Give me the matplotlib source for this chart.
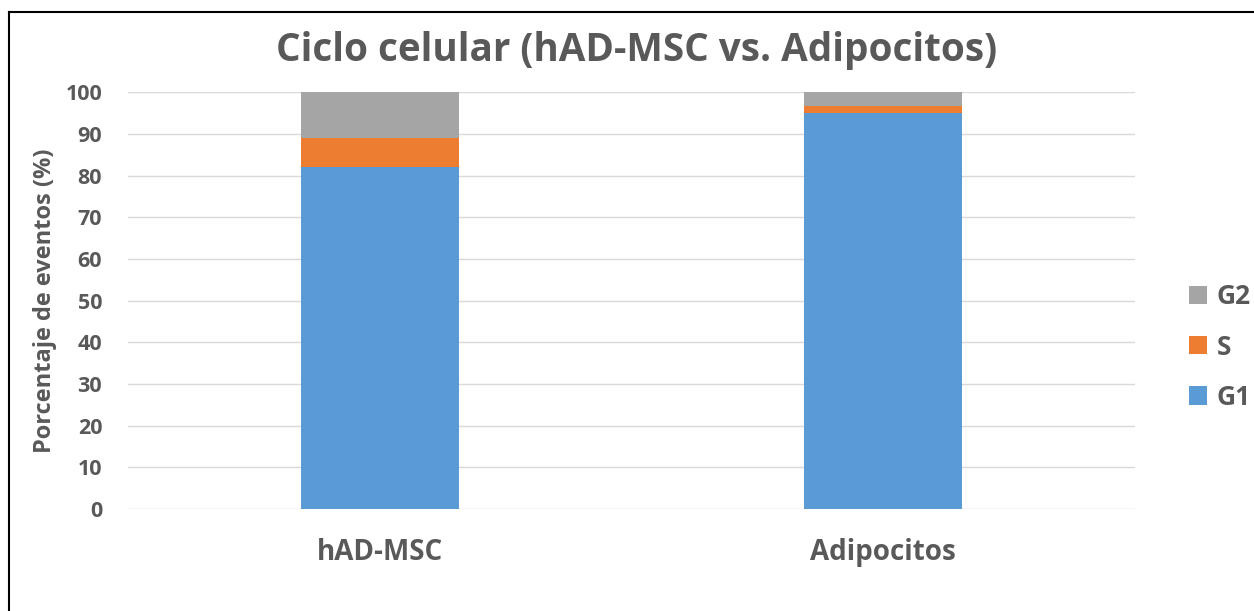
import matplotlib.pyplot as plt
import numpy as np
from matplotlib.lines import Line2D

# data
categories = ['hAD-MSC', 'Adipocitos']
g1 = [82.1, 95.0]
s_phase = [6.9, 1.7]
g2 = [11.0, 3.3]
yticks = list(range(0, 101, 10))

text_color = '#595959'
plt.rcParams['font.family'] = ['Open Sans', 'DejaVu Sans']

fig = plt.figure(figsize=(12.54, 6.11), dpi=100)
ax = fig.add_axes([0.102, 0.167, 0.803, 0.682])

x = np.arange(len(categories))
width = 0.314
b1 = ax.bar(x, g1, width, color='#5B9BD5', label='G1', zorder=3)
b2 = ax.bar(x, s_phase, width, bottom=g1, color='#ED7D31', label='S', zorder=3)
bottom2 = [a + b for a, b in zip(g1, s_phase)]
b3 = ax.bar(x, g2, width, bottom=bottom2, color='#A5A5A5', label='G2', zorder=3)

ax.set_xlim(-0.5, 1.5)
ax.set_ylim(0, 100)
ax.set_yticks(yticks)
ax.set_yticklabels([str(t) for t in yticks], fontsize=15.5, fontweight='bold', color=text_color)
ax.set_xticks(x)
ax.set_xticklabels(categories, fontsize=20, fontweight='bold', color=text_color)
ax.tick_params(axis='both', length=0)
ax.tick_params(axis='y', pad=18.5)
ax.tick_params(axis='x', pad=21)
ax.grid(True, axis='y', color='#d9d9d9', linewidth=1, zorder=0)
for sp in ax.spines.values():
    sp.set_visible(False)

ax.set_ylabel('Porcentaje de eventos (%)', fontsize=17, fontweight='bold', color=text_color)
ax.yaxis.set_label_coords(-0.0705, 0.5)
fig.text(0.508, 0.918, 'Ciclo celular (hAD-MSC vs. Adipocitos)', ha='center', va='center',
         fontsize=27.8, fontweight='bold', color=text_color)

leg = fig.legend(handles=[b3, b2, b1], labels=['G2', 'S', 'G1'], loc='center left',
                 bbox_to_anchor=(0.948, 0.432), frameon=False, borderpad=0, borderaxespad=0,
                 handlelength=0.68, handleheight=0.68, handletextpad=0.38, labelspacing=0.88,
                 prop={'size': 19, 'weight': 'bold'})
for t in leg.get_texts():
    t.set_color(text_color)

# outer frame, open at right and bottom like the original crop
fig.add_artist(Line2D([9 / 1254, 9 / 1254], [0, 1 - 12 / 611], transform=fig.transFigure, color='black', lw=1.5))
fig.add_artist(Line2D([9 / 1254, 1], [1 - 12 / 611, 1 - 12 / 611], transform=fig.transFigure, color='black', lw=1.5))

fig.savefig('out.png', dpi=100)
